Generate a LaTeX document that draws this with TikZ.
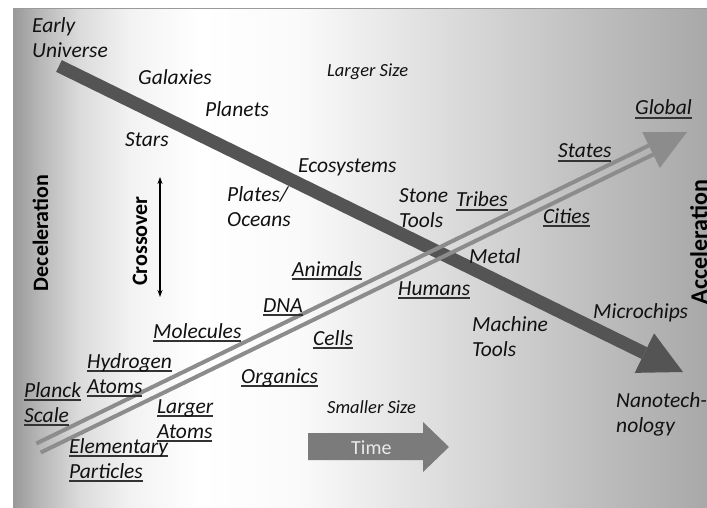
\documentclass[tikz,border=0pt]{standalone}
\usepackage{fontspec}
\setmainfont{Carlito}
\usetikzlibrary{arrows.meta}
\definecolor{g0}{gray}{0.60}
\definecolor{g1}{gray}{0.72}
\definecolor{g2}{gray}{0.86}
\definecolor{g3}{gray}{0.95}
\definecolor{g4}{gray}{1.00}
\definecolor{g5}{gray}{0.98}
\definecolor{g6}{gray}{0.90}
\definecolor{g7}{gray}{0.82}
\definecolor{g8}{gray}{0.74}
\definecolor{g9}{gray}{0.66}
\definecolor{darkc}{HTML}{545454}
\definecolor{litec}{HTML}{8C8C8C}
\definecolor{timec}{HTML}{7B7B7B}
\definecolor{txt}{HTML}{111111}
\definecolor{ulc}{HTML}{333333}
\definecolor{framec}{HTML}{9A9A9A}
\pgfdeclarehorizontalshading{bgshade}{100bp}{color(0bp)=(g0); color(25bp)=(g0); color(26.94bp)=(g1); color(29.82bp)=(g2); color(33.42bp)=(g3); color(38.45bp)=(g4); color(45.65bp)=(g5); color(52.84bp)=(g6); color(60.04bp)=(g7); color(67.23bp)=(g8); color(75bp)=(g9); color(100bp)=(g9)}
\newcommand\ulbox[1]{\setbox0\hbox{#1}\rlap{\color{ulc}\vrule height -2.4pt depth 3.8pt width \wd0}\box0}
\begin{document}
\begin{tikzpicture}[x=1pt,y=-1pt,
  lbl/.style={font=\itshape\fontsize{21.5}{25}\selectfont, inner sep=0pt, anchor=base west, align=left, text=txt},
  smalllbl/.style={lbl, font=\itshape\fontsize{18.5}{22}\selectfont},
  rotlbl/.style={rotate=90, anchor=base, inner sep=0pt, text=black, font=\bfseries\fontsize{22}{26}\selectfont},
  darkshaft/.style={draw=darkc, line width=13pt},
  liteline/.style={draw=litec, line width=4pt},
  timearrow/.style={fill=timec}]
\useasboundingbox (0,0) rectangle (707,508);
\shade[shading=bgshade] (13,9) rectangle (708,507);
\draw[framec, line width=1pt] (13,507) -- (13,9) -- (708,9);

% dark (deceleration) arrow
\coordinate (ds) at (59,66);
\coordinate (dbase) at (644.4,353.1);
\coordinate (dtip) at (683,372);
\draw[darkshaft] (ds) -- (dbase);
\fill[darkc] (dtip) -- ([shift={(-9.68,19.76)}]dbase) -- ([shift={(9.68,-19.76)}]dbase) -- cycle;

% light (acceleration) double arrow
\coordinate (ls) at (38.5,448);
\coordinate (lb) at (651,150);
\coordinate (lt) at (687,132);
\draw[liteline] ([shift={(2.19,4.5)}]ls) -- ([shift={(2.19,4.5)}]lb);
\draw[liteline] ([shift={(-2.19,-4.5)}]ls) -- ([shift={(-2.19,-4.5)}]lb);
\fill[litec] (lt) -- ([shift={(8.75,17.98)}]lb) -- ([shift={(-8.75,-17.98)}]lb) -- cycle;

% time arrow
\fill[timearrow] (308,433) -- (423,433) -- (423,422) -- (449,447) -- (423,472) -- (423,460) -- (308,460) -- cycle;
\node[anchor=base west, inner sep=0pt, text={rgb,255:red,235;green,235;blue,235}, font=\fontsize{20}{24}\selectfont] (time) at (351,454) {Time};

% crossover arrow
\coordinate (cu) at (160,177);
\coordinate (cd) at (160,297);
\draw[{Stealth[length=7pt,width=5pt]}-{Stealth[length=7pt,width=5pt]}, line width=1.1pt] (cu) -- (cd);

% rotated labels
\node[rotlbl] (decel) at (48,233) {Deceleration};
\node[rotlbl] (cross) at (147,241) {Crossover};
\node[rotlbl, font=\bfseries\fontsize{24}{28}\selectfont] (accel) at (707,242) {Acceleration};

% plain labels (multi-line nodes are placed by the baseline of their last line)
\node[lbl] (early) at (32,58) {Early\\Universe};
\node[lbl] (galaxies) at (138,85) {Galaxies};
\node[lbl] (planets) at (205,117) {Planets};
\node[lbl] (stars) at (125,147) {Stars};
\node[smalllbl] (larger) at (327,77) {Larger Size};
\node[lbl] (eco) at (298,173) {Ecosystems};
\node[lbl] (plates) at (227,226) {Plates/\\Oceans};
\node[lbl] (stone) at (399,227) {Stone\\Tools};
\node[lbl] (metal) at (469,263) {Metal};
\node[lbl] (micro) at (593,318) {Microchips};
\node[lbl] (machine) at (472,356) {Machine\\Tools};
\node[lbl] (nano) at (616,432) {Nanotech-\\nology};
\node[smalllbl] (smaller) at (327,413) {Smaller Size};

% underlined labels
\node[lbl] (global) at (635,115) {\ulbox{Global}};
\node[lbl] (states) at (558,158) {\ulbox{States}};
\node[lbl] (tribes) at (456,207) {\ulbox{Tribes}};
\node[lbl] (cities) at (543,223) {\ulbox{Cities}};
\node[lbl] (humans) at (398,295) {\ulbox{Humans}};
\node[lbl] (animals) at (292,276) {\ulbox{Animals}};
\node[lbl] (dna) at (263,312) {\ulbox{DNA}};
\node[lbl] (molecules) at (153,338) {\ulbox{Molecules}};
\node[lbl] (cells) at (313,345) {\ulbox{Cells}};
\node[lbl] (hydrogen) at (87,393) {\ulbox{Hydrogen}\\\ulbox{Atoms}};
\node[lbl] (planck) at (24,422) {\ulbox{Planck}\\\ulbox{Scale}};
\node[lbl] (organics) at (241,383) {\ulbox{Organics}};
\node[lbl] (largeratoms) at (157,438) {\ulbox{Larger}\\\ulbox{Atoms}};
\node[lbl] (elementary) at (69,478) {\ulbox{Elementary}\\\ulbox{Particles}};
\end{tikzpicture}
\end{document}
